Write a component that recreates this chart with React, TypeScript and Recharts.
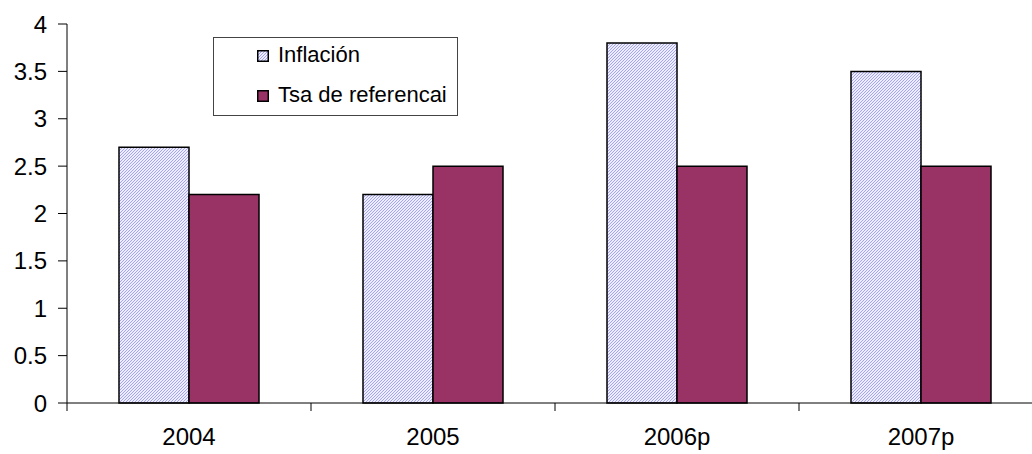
import { Bar, BarChart, Legend, XAxis, YAxis } from "recharts";

const years = ["2004", "2005", "2006p", "2007p"];
const inflacion = [2.7, 2.2, 3.8, 3.5];
const tasaReferencia = [2.2, 2.5, 2.5, 2.5];
const yTicks = [0, 0.5, 1, 1.5, 2, 2.5, 3, 3.5, 4];

const seriesNames = { inflacion: "Inflación", tasa: "Tsa de referencai" };

const data = years.map((year, i) => ({
  year,
  inflacion: inflacion[i],
  tasa: tasaReferencia[i],
}));

const FONT = "'Liberation Sans', Arial, sans-serif";
const TSA_COLOR = "#993366";
const X_TICK_SIZE = 8;
const X_TICK_MARGIN = 17;

function HatchDefs({ id }: { id: string }) {
  return (
    <defs>
      <pattern id={id} width="3" height="3" patternUnits="userSpaceOnUse">
        <rect width="3" height="3" fill="#eeeeff" />
        <path d="M-1,1 L1,-1 M0,3 L3,0 M2,4 L4,2" stroke="#a3a3f4" strokeWidth="1" />
      </pattern>
    </defs>
  );
}

// category label centred in the band, tick mark on the band's left edge
function CategoryTick(props: any) {
  const { x, y, payload } = props;
  const edge = x - (payload?.offset ?? 0);
  const axisY = y - X_TICK_SIZE - X_TICK_MARGIN;
  return (
    <g>
      <line x1={edge} y1={axisY} x2={edge} y2={axisY + X_TICK_SIZE} stroke="#000" />
      <text
        x={x}
        y={y}
        dy="0.71em"
        textAnchor="middle"
        fill="#000"
        fontSize={24}
        fontFamily={FONT}
      >
        {payload?.value}
      </text>
    </g>
  );
}

function LegendBox() {
  const rows = [
    { label: seriesNames.inflacion, hatch: true },
    { label: seriesNames.tasa, hatch: false },
  ];
  return (
    <div
      style={{
        width: 243,
        height: 77,
        border: "1px solid #444",
        background: "#fff",
        position: "relative",
        fontFamily: FONT,
        fontSize: 22,
        color: "#000",
      }}
    >
      {rows.map((row, i) => (
        <div
          key={row.label}
          style={{
            position: "absolute",
            left: 43,
            top: 5 + i * 40,
            height: 24,
            lineHeight: "24px",
            display: "flex",
            alignItems: "center",
            whiteSpace: "nowrap",
          }}
        >
          <svg width={12} height={12} style={{ marginRight: 9, marginTop: 2 }}>
            <HatchDefs id={`legend-hatch-${i}`} />
            <rect
              x={0.75}
              y={0.75}
              width={10.5}
              height={10.5}
              fill={row.hatch ? `url(#legend-hatch-${i})` : TSA_COLOR}
              stroke="#000"
              strokeWidth={1.5}
            />
          </svg>
          <span>{row.label}</span>
        </div>
      ))}
    </div>
  );
}

export default function App() {
  return (
    <div
      style={{
        position: "absolute",
        left: 0,
        top: 0,
        width: 1032,
        height: 454,
        overflow: "hidden",
        background: "#fff",
      }}
    >
      <BarChart
        width={1043}
        height={454}
        data={data}
        barSize={70}
        barGap={0}
        margin={{ top: 24, right: 0, left: 0, bottom: 0 }}
      >
        <HatchDefs id="infl-hatch" />
        <XAxis
          dataKey="year"
          height={51}
          stroke="#000"
          tickLine={false}
          tickSize={X_TICK_SIZE}
          tickMargin={X_TICK_MARGIN}
          tick={<CategoryTick />}
        />
        <YAxis
          width={67}
          domain={[0, 4]}
          ticks={yTicks}
          tickSize={9}
          tickMargin={11}
          stroke="#000"
          tick={{ fill: "#000", fontSize: 24, fontFamily: FONT }}
        />
        <Legend
          layout="horizontal"
          verticalAlign="middle"
          align="center"
          wrapperStyle={{ position: "absolute", left: 213, top: 37, width: 245, height: 79 }}
          content={() => <LegendBox />}
        />
        <Bar
          dataKey="inflacion"
          name={seriesNames.inflacion}
          fill="url(#infl-hatch)"
          stroke="#000"
          strokeWidth={1.5}
          isAnimationActive={false}
        />
        <Bar
          dataKey="tasa"
          name={seriesNames.tasa}
          fill={TSA_COLOR}
          stroke="#000"
          strokeWidth={1.5}
          isAnimationActive={false}
        />
      </BarChart>
    </div>
  );
}
